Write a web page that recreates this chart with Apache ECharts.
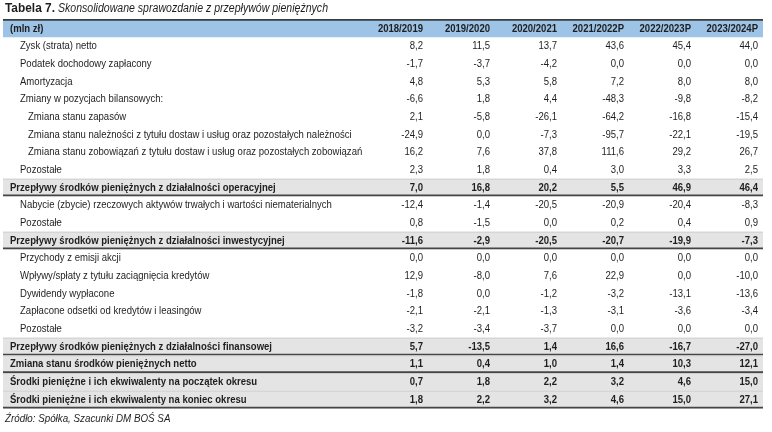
<!DOCTYPE html>
<html><head><meta charset="utf-8">
<script src="https://cdn.jsdelivr.net/npm/echarts@6/dist/echarts.min.js"></script>
<style>html,body{margin:0;padding:0;background:#fff}#c{width:772px;height:432px}</style>
</head><body><div id="c"></div>
<script>
var titleBold = 'Tabela 7.';
var titleItalic = 'Skonsolidowane sprawozdanie z przepływów pieniężnych';
var sourceText = 'Źródło: Spółka, Szacunki DM BOŚ SA';
var headerLabel = '(mln zł)';
var categories = ['2018/2019', '2019/2020', '2020/2021', '2021/2022P', '2022/2023P', '2023/2024P'];
var rowLabels = [
  'Zysk (strata) netto',
  'Podatek dochodowy zapłacony',
  'Amortyzacja',
  'Zmiany w pozycjach bilansowych:',
  'Zmiana stanu zapasów',
  'Zmiana stanu należności z tytułu dostaw i usług oraz pozostałych należności',
  'Zmiana stanu zobowiązań z tytułu dostaw i usług oraz pozostałych zobowiązań',
  'Pozostałe',
  'Przepływy środków pieniężnych z działalności operacyjnej',
  'Nabycie (zbycie) rzeczowych aktywów trwałych i wartości niematerialnych',
  'Pozostałe',
  'Przepływy środków pieniężnych z działalności inwestycyjnej',
  'Przychody z emisji akcji',
  'Wpływy/spłaty z tytułu zaciągnięcia kredytów',
  'Dywidendy wypłacone',
  'Zapłacone odsetki od kredytów i leasingów',
  'Pozostałe',
  'Przepływy środków pieniężnych z działalności finansowej',
  'Zmiana stanu środków pieniężnych netto',
  'Środki pieniężne i ich ekwiwalenty na początek okresu',
  'Środki pieniężne i ich ekwiwalenty na koniec okresu'
];
// n = item, s = sub item, t = total (bold, ruled), u = total (bold, no rule)
var rowTypes = ['n','n','n','n','s','s','s','n','t','n','n','t','n','n','n','n','n','t','t','u','t'];
var v2018 = [8.2, -1.7, 4.8, -6.6, 2.1, -24.9, 16.2, 2.3, 7.0, -12.4, 0.8, -11.6, 0.0, 12.9, -1.8, -2.1, -3.2, 5.7, 1.1, 0.7, 1.8];
var v2019 = [11.5, -3.7, 5.3, 1.8, -5.8, 0.0, 7.6, 1.8, 16.8, -1.4, -1.5, -2.9, 0.0, -8.0, 0.0, -2.1, -3.4, -13.5, 0.4, 1.8, 2.2];
var v2020 = [13.7, -4.2, 5.8, 4.4, -26.1, -7.3, 37.8, 0.4, 20.2, -20.5, 0.0, -20.5, 0.0, 7.6, -1.2, -1.3, -3.7, 1.4, 1.0, 2.2, 3.2];
var v2021 = [43.6, 0.0, 7.2, -48.3, -64.2, -95.7, 111.6, 3.0, 5.5, -20.9, 0.2, -20.7, 0.0, 22.9, -3.2, -3.1, 0.0, 16.6, 1.4, 3.2, 4.6];
var v2022 = [45.4, 0.0, 8.0, -9.8, -16.8, -22.1, 29.2, 3.3, 46.9, -20.4, 0.4, -19.9, 0.0, 0.0, -13.1, -3.6, 0.0, -16.7, 10.3, 4.6, 15.0];
var v2023 = [44.0, 0.0, 8.0, -8.2, -15.4, -19.5, 26.7, 2.5, 46.4, -8.3, 0.9, -7.3, 0.0, -10.0, -13.6, -3.4, 0.0, -27.0, 12.1, 15.0, 27.1];
var columns = [v2018, v2019, v2020, v2021, v2022, v2023];

var FONT = '"Liberation Sans", Arial, sans-serif';
var TXT = '#1e1e1e';
var LEFT = 3, RIGHT = 763, SX = 0.83, FS = '11.5px ';

var rowIds = ['h'].concat(rowLabels.map(function (_, i) { return 'r' + i; }));
function fmt(v) { return v.toFixed(1).replace('.', ','); }
function isBold(t) { return t === 'h' || t === 't' || t === 'u'; }

var rowData = [[0]].concat(rowTypes.map(function (t, i) { return [i + 1]; }));
var cellData = [];
categories.forEach(function (c, ci) { cellData.push([ci, 0, c, 'h']); });
columns.forEach(function (col, ci) {
  col.forEach(function (v, ri) { cellData.push([ci, ri + 1, fmt(v), rowTypes[ri]]); });
});

function narrowText(x, y, text, font, align) {
  return { type: 'text', x: x, y: y, scaleX: SX, style: {
    x: 0, y: 0, text: text, align: align, verticalAlign: 'middle', font: font, fill: TXT } };
}

var chart = echarts.init(document.getElementById('c'));
chart.setOption({
  animation: false,
  graphic: [
    { type: 'text', x: 5, y: 9, scaleX: 0.95, style: { x: 0, y: 0, text: titleBold, verticalAlign: 'middle',
      font: 'bold 12.5px ' + FONT, fill: TXT } },
    { type: 'text', x: 58, y: 9, scaleX: 0.88, style: { x: 0, y: 0, text: titleItalic, verticalAlign: 'middle',
      font: 'italic 12px ' + FONT, fill: TXT } },
    { type: 'text', x: 5, y: 419, scaleX: 0.89, style: { x: 0, y: 0, text: sourceText, verticalAlign: 'middle',
      font: 'italic 11px ' + FONT, fill: TXT } }
  ],
  grid: { left: 358, right: 12, top: 19.5, bottom: 23.5 },
  xAxis: { type: 'category', data: categories, show: false },
  yAxis: { type: 'category', data: rowIds, inverse: true, show: false },
  series: [
    {
      type: 'custom', data: rowData, z: 1,
      renderItem: function (params, api) {
        var r = api.value(0), t = r === 0 ? 'h' : rowTypes[r - 1];
        var y = api.coord([0, r])[1], h = api.size([0, 1])[1];
        var top = y - h / 2, children = [];
        if (t === 'h') {
          children.push({ type: 'rect', shape: { x: LEFT, y: top, width: RIGHT - LEFT, height: h }, style: { fill: '#9dc3e6' } });
          children.push({ type: 'rect', shape: { x: LEFT, y: top - 0.5, width: RIGHT - LEFT, height: 1.8 }, style: { fill: '#3a3a3a' } });
        } else if (t === 't' || t === 'u') {
          children.push({ type: 'rect', shape: { x: LEFT, y: top, width: RIGHT - LEFT, height: h }, style: { fill: '#e4e4e4' } });
          children.push({ type: 'rect', shape: { x: LEFT, y: top, width: RIGHT - LEFT, height: 0.8 }, style: { fill: '#c8c8c8' } });
          if (t === 't') {
            children.push({ type: 'rect', shape: { x: LEFT, y: top + h - 1.8, width: RIGHT - LEFT, height: 1.8 }, style: { fill: '#454545' } });
          }
        }
        var label = t === 'h' ? headerLabel : rowLabels[r - 1];
        var x = isBold(t) ? 10 : (t === 's' ? 28 : 20);
        children.push(narrowText(x, y, label, (isBold(t) ? 'bold ' : '') + FS + FONT, 'left'));
        return { type: 'group', children: children };
      }
    },
    {
      type: 'custom', data: cellData, z: 3,
      renderItem: function (params, api) {
        var p = api.coord([api.value(0), api.value(1)]);
        var w = api.size([1, 0])[0];
        var d = cellData[params.dataIndex];
        return narrowText(p[0] + w / 2 - 2, p[1], d[2], (isBold(d[3]) ? 'bold ' : '') + FS + FONT, 'right');
      }
    }
  ]
});
</script></body></html>
